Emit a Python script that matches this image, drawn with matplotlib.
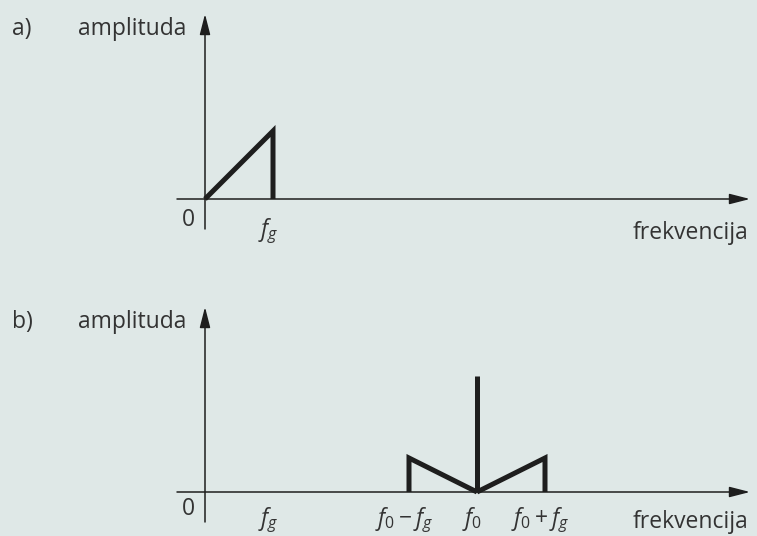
import matplotlib
matplotlib.use("Agg")
import matplotlib.pyplot as plt

plt.rcParams['font.family'] = ['Open Sans', 'DejaVu Sans']
plt.rcParams['mathtext.fontset'] = 'custom'
plt.rcParams['mathtext.it'] = 'Open Sans:italic'
plt.rcParams['mathtext.rm'] = 'Open Sans'
plt.rcParams['mathtext.sf'] = 'Open Sans'

# ---- data (frequency in units of f_g) ----
f_g = 1.0
f_0 = 4.0
# panel a: baseband spectrum (triangle)
a_freq = [0.0, f_g, f_g]
a_amp = [0.0, 1.0, 0.0]
# panel b: modulated spectrum
lsb_freq = [f_0 - f_g, f_0 - f_g, f_0]
lsb_amp = [0.0, 0.5, 0.0]
usb_freq = [f_0, f_0 + f_g, f_0 + f_g]
usb_amp = [0.0, 0.5, 0.0]
carrier_freq = [f_0, f_0]
carrier_amp = [0.0, 1.7]

panel_labels = ['a)', 'b)']
ylabel = 'amplituda'
xlabel = 'frekvencija'
a_ticks = [(f_g, r'$f_g$')]
b_ticks = [(f_g, r'$f_g$'), (f_0 - f_g, r'$f_\mathrm{0}\,\!-\!\,f_g$'),
           (f_0, r'$f_\mathrm{0}$'), (f_0 + f_g, r'$f_\mathrm{0}\,\!+\!\,f_g$')]

# ---- layout ----
W, H = 757, 536
PX = 68.0  # pixels per unit
BG = '#dfe8e7'
INK = '#1e1e1e'
TXT = '#333333'
FS = 16.5

fig = plt.figure(figsize=(W / 100, H / 100), dpi=100, facecolor=BG)

def make_panel(bottom_px, top_px, origin_row):
    ax = fig.add_axes([0, 1 - bottom_px / H, 1, (bottom_px - top_px) / H])
    ax.set_facecolor(BG)
    ax.set_xlim(-205 / PX, (W - 205) / PX)
    ax.set_ylim(-(bottom_px - origin_row) / PX, (origin_row - top_px) / PX)
    ax.axis('off')
    return ax

def draw_axes(ax, origin_row, tip_row, label, ticks, lift):
    arrow = dict(arrowstyle='-|>,head_length=1.25,head_width=0.32', lw=1.1,
                 color=INK, shrinkA=0, shrinkB=0, mutation_scale=10)
    # horizontal axis
    ax.annotate('', xy=((750 - 205) / PX, 0), xytext=(-28 / PX, 0),
                arrowprops=arrow)
    # vertical axis
    ax.annotate('', xy=(0, (origin_row - tip_row) / PX), xytext=(0, -30 / PX),
                arrowprops=arrow)
    # texts
    base_row = tip_row + 21
    yb = (origin_row - base_row) / PX
    ax.text(-193 / PX, yb, label, fontsize=FS, color=TXT, ha='left', va='baseline')
    ax.text(-19 / PX, yb, ylabel, fontsize=FS, color=TXT, ha='right', va='baseline')
    ax.text((748 - 205) / PX, (-40 + lift) / PX, xlabel, fontsize=FS, color=TXT,
            ha='right', va='baseline')
    ax.text(-17 / PX, (-27 + lift) / PX, '0', fontsize=FS, color=TXT, ha='center', va='baseline')
    for x, t in ticks:
        ax.text(x - 0.07, (-17 + lift) / PX, t, fontsize=FS, color=TXT, ha='center', va='top')

axa = make_panel(268, 0, 199)
draw_axes(axa, 199, 14, panel_labels[0], a_ticks, 0)
axa.plot(a_freq, a_amp, color=INK, lw=3.6, solid_joinstyle='miter', solid_capstyle='butt')

axb = make_panel(536, 268, 492)
draw_axes(axb, 492, 307, panel_labels[1], b_ticks, 4)
for fx, fy in [(lsb_freq, lsb_amp), (usb_freq, usb_amp), (carrier_freq, carrier_amp)]:
    axb.plot(fx, fy, color=INK, lw=3.6, solid_joinstyle='miter', solid_capstyle='butt')

fig.savefig('out.png', dpi=100, facecolor=BG)
